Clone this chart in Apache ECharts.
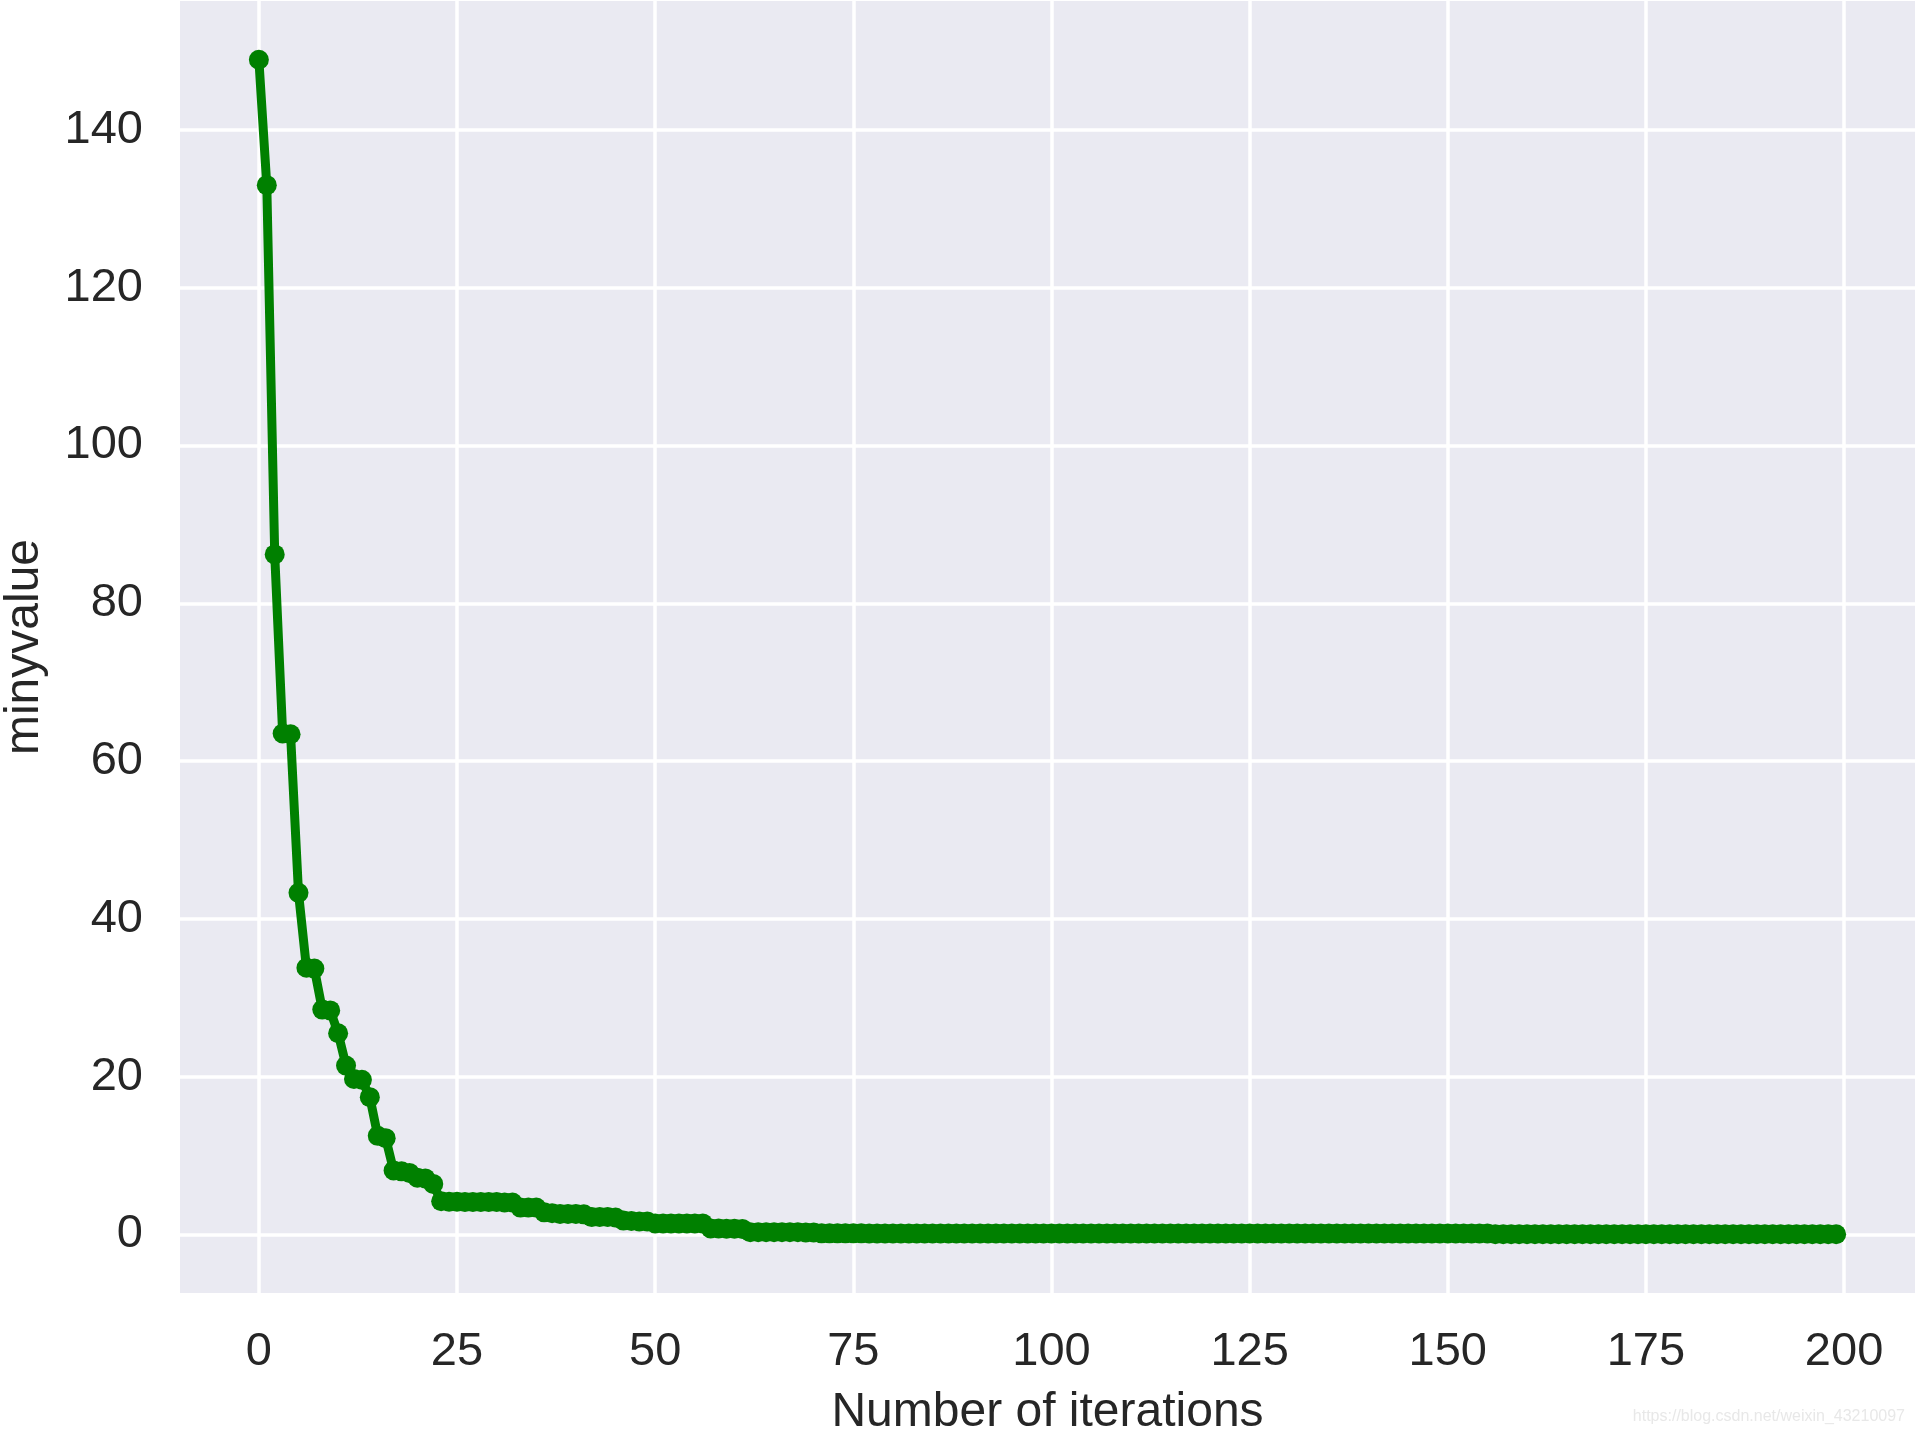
<!DOCTYPE html>
<html>
<head>
<meta charset="utf-8">
<script src="https://cdn.jsdelivr.net/npm/echarts@6/dist/echarts.min.js"></script>
<style>
html,body{margin:0;padding:0;background:#fff;}
#chart{width:1915px;height:1437px;}
</style>
</head>
<body>
<div id="chart"></div>
<script>
// minimum value found at each iteration (index = iteration number 0..199)
const minyvalue = [
  148.9, 133.0, 86.2, 63.5, 63.4, 43.3, 33.8, 33.7, 28.5, 28.4,
  25.5, 21.4, 19.7, 19.6, 17.4, 12.5, 12.2, 8.1, 8.0, 7.8,
  7.2, 7.1, 6.4, 4.2, 4.15, 4.15, 4.1, 4.1, 4.1, 4.1,
  4.1, 4.05, 4.05, 3.4, 3.4, 3.4, 2.8, 2.7, 2.6, 2.6,
  2.6, 2.55, 2.2, 2.2, 2.2, 2.15, 1.75, 1.7, 1.65, 1.65,
  1.4, 1.4, 1.4, 1.4, 1.4, 1.4, 1.4, 0.75, 0.75, 0.72,
  0.72, 0.7, 0.28, 0.28, 0.28, 0.28, 0.27, 0.27, 0.27, 0.26,
  0.26, 0.14, 0.14, 0.14, 0.14, 0.14, 0.14, 0.13, 0.13, 0.13,
  0.13, 0.13, 0.13, 0.13, 0.13, 0.13, 0.13, 0.13, 0.13, 0.13,
  0.13, 0.13, 0.13, 0.13, 0.13, 0.13, 0.13, 0.13, 0.13, 0.13,
  0.13, 0.13, 0.13, 0.13, 0.13, 0.13, 0.13, 0.13, 0.13, 0.13,
  0.13, 0.13, 0.13, 0.13, 0.13, 0.13, 0.13, 0.13, 0.13, 0.13,
  0.13, 0.13, 0.13, 0.13, 0.13, 0.13, 0.13, 0.13, 0.13, 0.13,
  0.13, 0.13, 0.13, 0.13, 0.13, 0.13, 0.13, 0.13, 0.13, 0.13,
  0.13, 0.13, 0.13, 0.13, 0.13, 0.13, 0.13, 0.13, 0.13, 0.13,
  0.13, 0.13, 0.13, 0.13, 0.13, 0.13, 0.02, 0.02, 0.02, 0.02,
  0.02, 0.02, 0.02, 0.02, 0.02, 0.02, 0.02, 0.02, 0.02, 0.02,
  0.02, 0.02, 0.02, 0.02, 0.02, 0.02, 0.02, 0.02, 0.02, 0.02,
  0.02, 0.02, 0.02, 0.02, 0.02, 0.02, 0.02, 0.02, 0.02, 0.02,
  0.02, 0.02, 0.02, 0.02, 0.02, 0.02, 0.02, 0.02, 0.02, 0.02
];
const xTicks = [0, 25, 50, 75, 100, 125, 150, 175, 200];
const yTicks = [0, 20, 40, 60, 80, 100, 120, 140];
const xName = 'Number of iterations';
const yName = 'minyvalue';
const watermark = 'https://blog.csdn.net/weixin_43210097';

const points = minyvalue.map((v, i) => [i, v]);

// matplotlib-style 5% margins
const xMinD = 0, xMaxD = minyvalue.length - 1;
const yMinD = Math.min(...minyvalue), yMaxD = Math.max(...minyvalue);
const xPad = (xMaxD - xMinD) * 0.05, yPad = (yMaxD - yMinD) * 0.05;

const textColor = '#262626';
const fontFamily = '"Liberation Sans", Arial, Helvetica, sans-serif';

const chart = echarts.init(document.getElementById('chart'), null, {renderer: 'canvas'});
chart.setOption({
  animation: false,
  backgroundColor: '#ffffff',
  grid: {
    left: 180, right: 0, top: 1, bottom: 144,
    outerBoundsMode: 'none', containLabel: false,
    show: true, backgroundColor: '#EAEAF2', borderWidth: 0
  },
  xAxis: {
    type: 'value',
    min: xMinD - xPad, max: xMaxD + xPad,
    axisLine: {show: false}, axisTick: {show: false}, splitLine: {show: false},
    axisLabel: {
      customValues: xTicks, margin: 36, fontSize: 47,
      color: textColor, fontFamily: fontFamily
    },
    name: xName, nameLocation: 'middle', nameGap: 96,
    nameTextStyle: {fontSize: 48, color: textColor, fontFamily: fontFamily}
  },
  yAxis: {
    type: 'value',
    min: yMinD - yPad, max: yMaxD + yPad,
    axisLine: {show: false}, axisTick: {show: false}, splitLine: {show: false},
    axisLabel: {
      customValues: yTicks, margin: 37, fontSize: 47,
      color: textColor, fontFamily: fontFamily
    },
    name: yName, nameLocation: 'middle', nameGap: 131, nameRotate: 90,
    nameTextStyle: {fontSize: 48, color: textColor, fontFamily: fontFamily}
  },
  series: [
    {
      type: 'line', data: [], z: 1, silent: true,
      markLine: {
        silent: true, z: 1, animation: false,
        symbol: ['none', 'none'],
        label: {show: false},
        lineStyle: {color: '#ffffff', width: 3.5, type: 'solid'},
        emphasis: {disabled: true},
        data: xTicks.map(v => ({xAxis: v})).concat(yTicks.map(v => ({yAxis: v})))
      }
    },
    {
      type: 'line', z: 10,
      data: points,
      showAllSymbol: true,
      symbol: 'circle', symbolSize: 20,
      itemStyle: {color: '#008000'},
      lineStyle: {color: '#008000', width: 9},
      emphasis: {disabled: true}
    }
  ],
  graphic: [{
    type: 'text', right: 10, top: 1409, z: 100,
    style: {text: watermark, fill: '#e8e8e8', fontSize: 16, fontFamily: fontFamily}
  }]
});
</script>
</body>
</html>
